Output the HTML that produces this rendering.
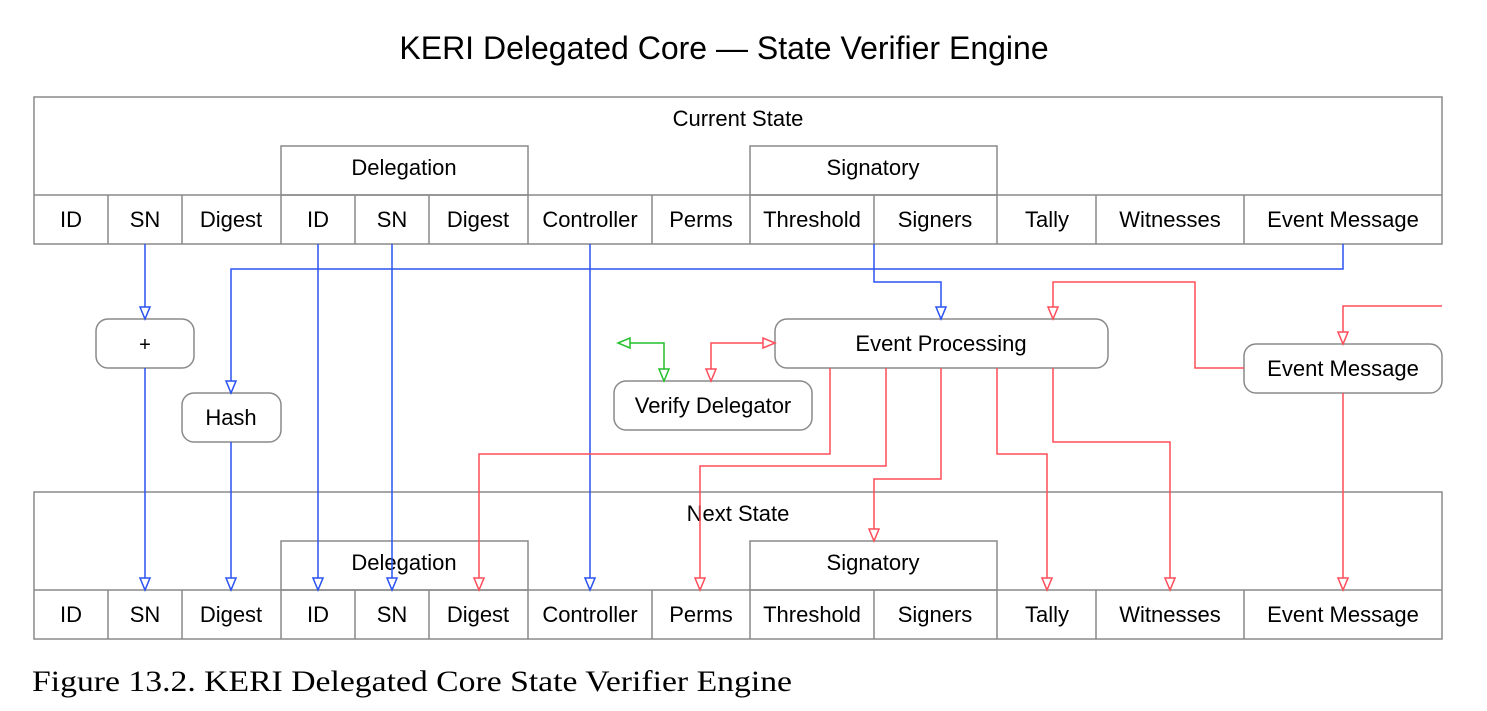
<!DOCTYPE html>
<html><head><meta charset="utf-8"><style>
html,body{margin:0;padding:0;background:#fff;}
svg{display:block;}
text{font-family:"Liberation Sans",sans-serif;font-size:22px;fill:#000;}
</style></head><body>
<svg width="1487" height="711" viewBox="0 0 1487 711" xmlns="http://www.w3.org/2000/svg">
<text x="724" y="59" text-anchor="middle" style="font-size:32px">KERI Delegated Core — State Verifier Engine</text>

<g fill="none" stroke="#8a8a8a" stroke-width="1.5">
<rect x="34" y="97" width="1408" height="147"/>
<rect x="281" y="146" width="247" height="49"/>
<rect x="750" y="146" width="247" height="49"/>
<line x1="34" y1="195" x2="1442" y2="195"/>
<path d="M108 195V244M182 195V244M281 195V244M355 195V244M429 195V244M528 195V244M652 195V244M750 195V244M874 195V244M997 195V244M1096 195V244M1244 195V244"/>
<rect x="34" y="492" width="1408" height="147"/>
<rect x="281" y="541" width="247" height="49"/>
<rect x="750" y="541" width="247" height="49"/>
<line x1="34" y1="590" x2="1442" y2="590"/>
<path d="M108 590V639M182 590V639M281 590V639M355 590V639M429 590V639M528 590V639M652 590V639M750 590V639M874 590V639M997 590V639M1096 590V639M1244 590V639"/>
<rect x="96" y="319" width="98" height="49" rx="12"/>
<rect x="182" y="393" width="99" height="49" rx="12"/>
<rect x="614" y="381" width="198" height="49" rx="12"/>
<rect x="775" y="319" width="333" height="49" rx="12"/>
<rect x="1244" y="344" width="198" height="49" rx="12"/>
</g>

<g text-anchor="middle">
<text x="738" y="126">Current State</text>
<text x="404" y="175">Delegation</text>
<text x="873" y="175">Signatory</text>
<text x="71" y="227">ID</text><text x="145" y="227">SN</text><text x="231" y="227">Digest</text>
<text x="318" y="227">ID</text><text x="392" y="227">SN</text><text x="478" y="227">Digest</text>
<text x="590" y="227">Controller</text><text x="701" y="227">Perms</text>
<text x="812" y="227">Threshold</text><text x="935" y="227">Signers</text>
<text x="1047" y="227">Tally</text><text x="1170" y="227">Witnesses</text><text x="1343" y="227">Event Message</text>

<text x="738" y="521">Next State</text>
<text x="404" y="570">Delegation</text>
<text x="873" y="570">Signatory</text>
<text x="71" y="622">ID</text><text x="145" y="622">SN</text><text x="231" y="622">Digest</text>
<text x="318" y="622">ID</text><text x="392" y="622">SN</text><text x="478" y="622">Digest</text>
<text x="590" y="622">Controller</text><text x="701" y="622">Perms</text>
<text x="812" y="622">Threshold</text><text x="935" y="622">Signers</text>
<text x="1047" y="622">Tally</text><text x="1170" y="622">Witnesses</text><text x="1343" y="622">Event Message</text>

<text x="145" y="351" style="font-size:20px">+</text>
<text x="231" y="425">Hash</text>
<text x="713" y="413">Verify Delegator</text>
<text x="941" y="351">Event Processing</text>
<text x="1343" y="376">Event Message</text>
</g>

<g fill="none" stroke="#2a52f0" stroke-width="1.5">
<path d="M145 244V307M145 368V578"/>
<path d="M1343 244V269H231V381M231 442V578"/>
<path d="M318 244V578M392 244V578M590 244V578"/>
<path d="M874 244V282H941V307"/>
<g fill="#fff">
<polygon points="140,307 150,307 145,319"/>
<polygon points="140,578 150,578 145,590"/>
<polygon points="226,381 236,381 231,393"/>
<polygon points="226,578 236,578 231,590"/>
<polygon points="313,578 323,578 318,590"/>
<polygon points="387,578 397,578 392,590"/>
<polygon points="585,578 595,578 590,590"/>
<polygon points="936,307 946,307 941,319"/>
</g>
</g>

<g fill="none" stroke="#ff4d5a" stroke-width="1.5">
<path d="M1244 368H1195V282H1053V307"/>
<path d="M1442 306H1343V332M1343 393V578"/>
<path d="M711 369V343H763"/>
<path d="M830 368V454H479V578"/>
<path d="M886 368V466H700V578"/>
<path d="M941 368V479H874V529"/>
<path d="M997 368V454H1047V578"/>
<path d="M1053 368V442H1170V578"/>
<g fill="#fff">
<polygon points="1048,307 1058,307 1053,319"/>
<polygon points="1338,332 1348,332 1343,344"/>
<polygon points="1338,578 1348,578 1343,590"/>
<polygon points="706,369 716,369 711,381"/>
<polygon points="763,338 763,348 775,343"/>
<polygon points="474,578 484,578 479,590"/>
<polygon points="695,578 705,578 700,590"/>
<polygon points="869,529 879,529 874,541"/>
<polygon points="1042,578 1052,578 1047,590"/>
<polygon points="1165,578 1175,578 1170,590"/>
</g>
</g>

<g fill="none" stroke="#22c02a" stroke-width="1.5">
<path d="M664 369V343H630"/>
<g fill="#fff">
<polygon points="659,369 669,369 664,381"/>
<polygon points="630,338 630,348 618,343"/>
</g>
</g>

<text x="32" y="691" textLength="760" lengthAdjust="spacingAndGlyphs" style='font-family:"Liberation Serif",serif;font-size:30px'>Figure 13.2.  KERI Delegated Core State Verifier Engine</text>
</svg>
</body></html>
